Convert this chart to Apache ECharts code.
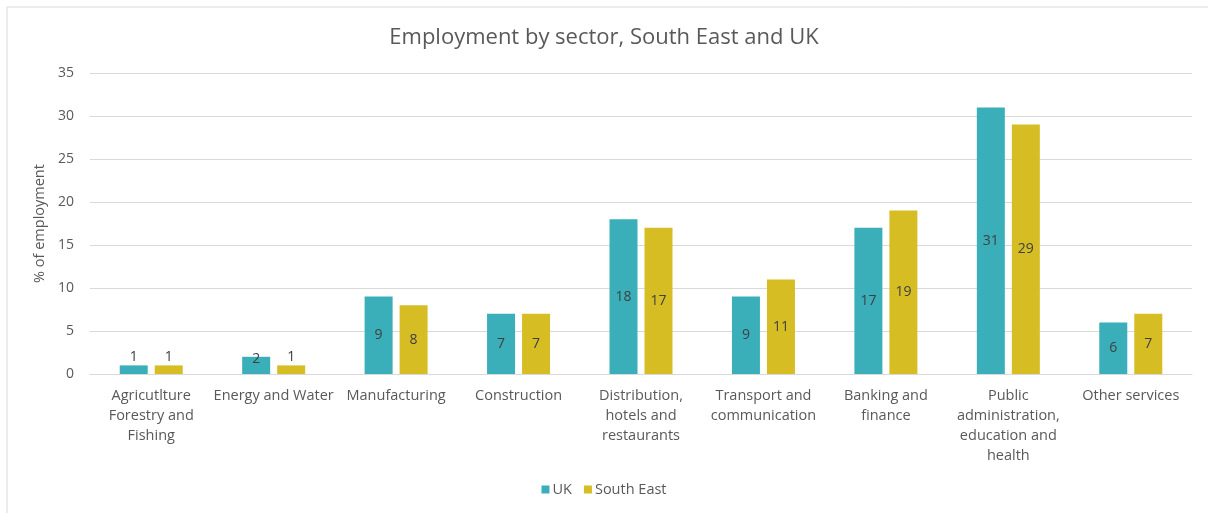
<!DOCTYPE html>
<html>
<head>
<meta charset="utf-8">
<script src="https://cdn.jsdelivr.net/npm/echarts@6/dist/echarts.min.js"></script>
<style>html,body{margin:0;padding:0;background:#fff}#c{width:1208px;height:513px}</style>
</head>
<body>
<div id="c"></div>
<script>
const categories = [
  "Agricutlture\nForestry and\nFishing",
  "Energy and Water",
  "Manufacturing",
  "Construction",
  "Distribution,\nhotels and\nrestaurants",
  "Transport and\ncommunication",
  "Banking and\nfinance",
  "Public\nadministration,\neducation and\nhealth",
  "Other services"
];
const ukValues = [1, 2, 9, 7, 18, 9, 17, 31, 6];
const southEastValues = [1, 1, 8, 7, 17, 11, 19, 29, 7];
const seriesNames = ["UK", "South East"];
const yTicks = [0, 5, 10, 15, 20, 25, 30, 35];

const FONT = "'Open Sans', sans-serif";
function items(vals) {
  return vals.map(v => {
    if (v < 3) {
      return { value: v, label: { position: 'top', distance: v >= 2 ? -9 : 1 } };
    }
    return v;
  });
}
const chart = echarts.init(document.getElementById('c'), null, { renderer: 'canvas' });
chart.setOption({
  animation: false,
  backgroundColor: '#fff',
  title: {
    text: 'Employment by sector, South East and UK',
    left: 'center', top: 22,
    textStyle: { fontFamily: FONT, fontSize: 22, fontWeight: 'normal', color: '#595959' }
  },
  legend: {
    data: seriesNames,
    bottom: 11, left: 'center',
    itemWidth: 8, itemHeight: 8, itemGap: 12,
    icon: 'rect',
    textStyle: { fontFamily: FONT, fontSize: 14.5, color: '#595959', padding: [0, 0, 0, -2] }
  },
  grid: { left: 90, right: 16, top: 73, bottom: 139, containLabel: false },
  xAxis: {
    type: 'category',
    data: categories,
    axisLine: { lineStyle: { color: '#d9d9d9' } },
    axisTick: { show: false },
    axisLabel: { interval: 0, fontFamily: FONT, fontSize: 14.5, color: '#595959', lineHeight: 20, margin: 12 }
  },
  yAxis: {
    type: 'value',
    min: yTicks[0], max: yTicks[yTicks.length - 1], interval: 5,
    name: '% of employment',
    nameLocation: 'middle', nameGap: 29,
    nameTextStyle: { fontFamily: FONT, fontSize: 14.5, color: '#595959' },
    axisLine: { show: false },
    axisTick: { show: false },
    axisLabel: { fontFamily: FONT, fontSize: 14, color: '#595959', margin: 16 },
    splitLine: { lineStyle: { color: '#d9d9d9' } }
  },
  series: [
    {
      name: seriesNames[0], type: 'bar', data: items(ukValues),
      barWidth: 28, barGap: '25%',
      itemStyle: { color: '#3AAFB9' },
      label: { show: true, position: 'inside', fontFamily: FONT, fontSize: 14, color: '#404040' }
    },
    {
      name: seriesNames[1], type: 'bar', data: items(southEastValues),
      barWidth: 28,
      itemStyle: { color: '#D6BD24' },
      label: { show: true, position: 'inside', fontFamily: FONT, fontSize: 14, color: '#404040' }
    }
  ],
  graphic: [
    { type: 'line', shape: { x1: 7, y1: 7, x2: 1208, y2: 7 }, style: { stroke: '#d9d9d9', lineWidth: 1 } },
    { type: 'line', shape: { x1: 7, y1: 7, x2: 7, y2: 513 }, style: { stroke: '#d9d9d9', lineWidth: 1 } }
  ]
});
</script>
</body>
</html>
